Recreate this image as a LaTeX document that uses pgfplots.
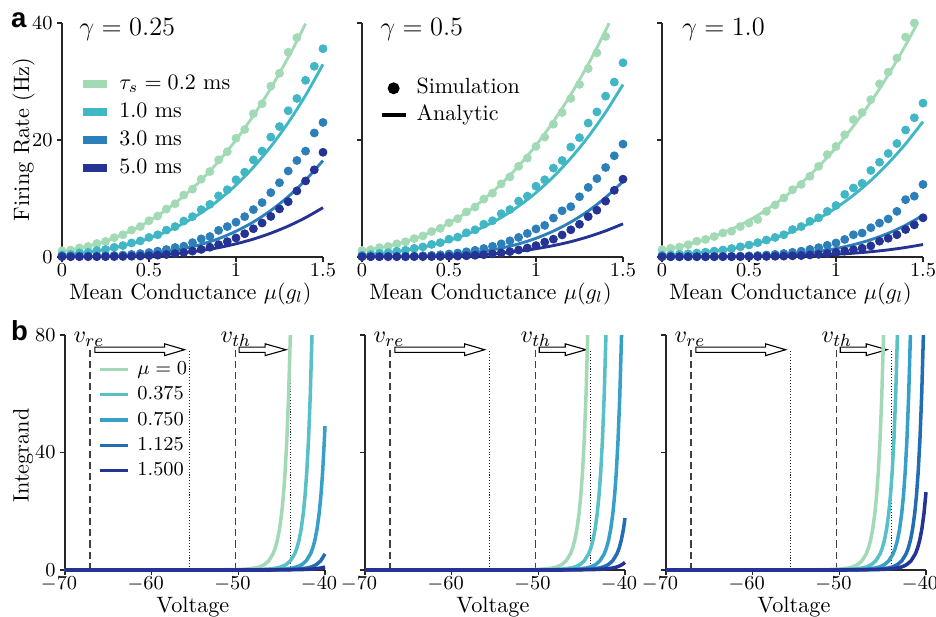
\documentclass[border=0pt]{standalone}
\usepackage{pgfplots}
\pgfplotsset{compat=1.18}
\usepackage{pgfplotstable}
\usepackage{fontspec}
\newfontfamily\helv{Liberation Sans}

\definecolor{cA}{HTML}{A1DAB4}
\definecolor{cB}{HTML}{41B6C4}
\definecolor{cC}{HTML}{2C7FB8}
\definecolor{cD}{HTML}{253494}
\definecolor{vA}{HTML}{A3D9B6}
\definecolor{vB}{HTML}{58C0C6}
\definecolor{vC}{HTML}{37A0C8}
\definecolor{vD}{HTML}{236EB2}
\definecolor{vE}{HTML}{253494}

\pgfplotstableread{
x G T B D
0.00 1.05 0.35 0.15 0.05
0.05 1.18 0.42 0.15 0.05
0.10 1.55 0.68 0.15 0.05
0.15 1.80 0.80 0.16 0.05
0.20 2.30 1.10 0.18 0.05
0.25 2.65 1.28 0.21 0.06
0.30 3.30 1.65 0.26 0.07
0.35 3.80 1.95 0.34 0.09
0.40 4.60 2.40 0.45 0.12
0.45 5.20 2.75 0.59 0.16
0.50 6.20 3.35 0.77 0.22
0.55 7.00 3.80 1.00 0.31
0.60 8.20 4.60 1.28 0.42
0.65 9.10 5.20 1.62 0.57
0.70 10.6 6.15 1.85 0.77
0.75 11.6 6.90 2.45 1.01
0.80 13.3 8.10 3.10 1.30
0.85 14.6 9.00 3.50 1.67
0.90 16.6 10.45 4.55 2.11
0.95 18.0 11.50 5.20 2.63
1.00 20.3 13.20 5.95 3.25
1.05 21.8 14.50 6.90 3.98
1.10 24.5 16.60 8.10 4.83
1.15 26.2 18.10 9.30 5.81
1.20 29.2 20.50 11.0 6.93
1.25 31.4 22.30 12.7 8.22
1.30 35.0 25.00 14.7 9.45
1.35 37.5 27.10 16.5 11.3
1.40 nan 30.20 18.1 13.0
1.45 nan 32.60 21.2 14.9
1.50 nan 35.60 23.0 17.9
}\simA

\pgfplotstableread{
x G T B D
0.00 1.10 0.32 0.10 0.05
0.05 1.25 0.42 0.10 0.05
0.10 1.60 0.62 0.10 0.05
0.15 1.80 0.74 0.11 0.05
0.20 2.25 0.98 0.12 0.05
0.25 2.60 1.15 0.14 0.05
0.30 3.15 1.48 0.17 0.06
0.35 3.60 1.72 0.22 0.06
0.40 4.35 2.15 0.29 0.07
0.45 4.90 2.45 0.39 0.09
0.50 5.85 3.05 0.52 0.12
0.55 6.55 3.40 0.68 0.16
0.60 7.70 4.15 0.89 0.21
0.65 8.55 4.65 1.14 0.29
0.70 9.90 5.60 1.45 0.39
0.75 10.9 6.20 1.82 0.53
0.80 12.5 7.40 2.25 0.70
0.85 13.7 8.10 2.76 0.92
0.90 15.5 9.55 3.35 1.20
0.95 16.9 10.4 4.03 1.54
1.00 18.9 12.1 4.80 1.95
1.05 20.5 13.2 5.40 2.55
1.10 22.7 15.2 6.66 3.05
1.15 24.7 16.5 7.90 3.77
1.20 27.1 18.8 8.60 4.65
1.25 29.5 20.4 10.3 5.60
1.30 32.2 22.9 11.9 6.90
1.35 34.9 24.8 13.4 8.00
1.40 37.7 27.5 15.3 9.55
1.45 nan 29.9 17.3 11.4
1.50 nan 33.2 19.3 13.3
}\simB

\pgfplotstableread{
x G T B D
0.00 1.25 0.32 0.05 0.05
0.05 1.50 0.38 0.05 0.05
0.10 1.70 0.45 0.05 0.05
0.15 2.10 0.55 0.05 0.05
0.20 2.70 0.68 0.06 0.05
0.25 3.00 0.82 0.06 0.05
0.30 3.50 1.00 0.08 0.05
0.35 4.10 1.20 0.10 0.05
0.40 4.40 1.45 0.12 0.05
0.45 5.20 1.75 0.15 0.06
0.50 5.80 2.05 0.20 0.07
0.55 6.40 2.45 0.25 0.08
0.60 7.80 2.90 0.35 0.10
0.65 8.90 3.35 0.45 0.12
0.70 10.1 3.80 0.60 0.15
0.75 11.5 4.70 0.80 0.20
0.80 12.4 5.20 1.00 0.25
0.85 13.8 6.10 1.30 0.35
0.90 15.5 6.70 1.60 0.45
0.95 17.5 7.80 2.00 0.60
1.00 18.9 8.80 2.40 0.80
1.05 20.9 10.7 3.00 1.00
1.10 23.5 11.8 3.80 1.25
1.15 24.7 12.6 4.10 1.50
1.20 26.9 14.8 5.00 1.90
1.25 29.6 16.2 5.80 2.70
1.30 31.6 17.7 6.50 3.20
1.35 34.0 19.4 7.80 3.80
1.40 37.6 21.7 9.80 4.70
1.45 40.0 23.8 10.4 5.50
1.50 nan 26.3 12.4 6.70
}\simC

\pgfplotsset{
  base/.style={scale only axis, axis lines=left,
    axis line style={-, black!85, line width=0.6pt},
    every tick/.style={black!85, line width=0.6pt},
    tick align=outside, major tick length=2.2pt, clip=false,
    tick label style={font=\fontsize{8.6}{10}\selectfont},
    xticklabel style={inner sep=0.7pt},
    yticklabel style={inner xsep=1.9pt, inner ysep=0pt},
    label style={font=\fontsize{10.1}{12}\selectfont},
    anchor=south west},
  toprow/.style={base, width=118.51pt, height=106.25pt,
    xmin=0, xmax=1.5, ymin=0, ymax=40,
    xtick={0,0.5,1,1.5}, ytick={0,20,40},
    xlabel={Mean Conductance $\mu(g_l)$},
    xlabel style={at={(axis description cs:0.492,-0.18)}, anchor=base}},
  botrow/.style={base, width=118.06pt, height=106.70pt,
    xmin=-70, xmax=-40, ymin=0, ymax=80,
    xtick={-70,-60,-50,-40}, ytick={0,40,80},
    xticklabel style={xshift=-2.7pt},
    xlabel={Voltage},
    xlabel style={at={(axis description cs:0.492,-0.182)}, anchor=base}},
  sim/.style={only marks, mark=*, mark size=1.8pt, mark options={draw=none}},
  ana/.style={line width=1.3pt, smooth},
  bl/.style={line width=1.6pt, line join=round},
  vline/.style={black!75, line width=0.6pt, dash pattern=on 3.2pt off 1.9pt},
  dline/.style={black!85, line width=0.6pt, dash pattern=on 0.5pt off 0.8pt},
  thickleg/.style={legend image code/.code={\draw[##1, line width=3.3pt] (0pt,0pt) -- (10.9pt,0pt);}},
  botleg/.style={legend image code/.code={\draw[##1, line width=1.6pt] (0pt,0pt) -- (12.7pt,0pt);}},
  markleg/.style={legend image code/.code={\draw[##1] plot coordinates {(5.45pt,0pt)};}},
  lineleg/.style={legend image code/.code={\draw[##1] (0pt,0pt) -- (10.9pt,0pt);}},
}

\newcommand{\decor}{%
  \addplot[vline, forget plot] coordinates {(-67.1,0)(-67.1,75)};
  \addplot[vline, forget plot] coordinates {(-50.35,0)(-50.35,75)};
  \addplot[dline, forget plot] coordinates {(-55.6,0)(-55.6,75)};
  \addplot[dline, forget plot] coordinates {(-44.0,0)(-44.0,75)};
  \draw[draw=black, fill=white, line width=0.5pt] (axis cs:-66.55,74.1) -- (axis cs:-58.5,74.1) -- (axis cs:-58.5,73.0) -- (axis cs:-56.2,75) -- (axis cs:-58.5,77.0) -- (axis cs:-58.5,75.9) -- (axis cs:-66.55,75.9) -- cycle;
  \draw[draw=black, fill=white, line width=0.5pt] (axis cs:-49.9,74.1) -- (axis cs:-46.9,74.1) -- (axis cs:-46.9,73.0) -- (axis cs:-44.5,75) -- (axis cs:-46.9,77.0) -- (axis cs:-46.9,75.9) -- (axis cs:-49.9,75.9) -- cycle;
  \node[anchor=base west, inner sep=0pt, font=\fontsize{11}{13}\selectfont] at (axis cs:-69.05,77.4) {$v_{re}$};
  \node[anchor=base west, inner sep=0pt, font=\fontsize{11}{13}\selectfont] at (axis cs:-52.1,77.4) {$v_{th}$};
}

\begin{document}
\begin{tikzpicture}
\path[use as bounding box] (0pt,0pt) rectangle (425pt,279.70pt);

\node[anchor=base west, inner sep=0pt, font=\helv\bfseries\fontsize{12.5}{14}\selectfont] at (4.9pt,267.4pt) {a};
\node[anchor=base west, inner sep=0pt, font=\helv\bfseries\fontsize{12.5}{14}\selectfont] at (4.9pt,125.3pt) {b};

% ---------------- top panel 1
\begin{axis}[toprow, at={(28.15pt,163.01pt)},
  ylabel={Firing Rate (Hz)},
  ylabel style={at={(axis description cs:-0.126,0.502)}, anchor=base},
  thickleg,
  legend cell align=left,
  legend style={draw=none, fill=none, inner sep=0pt, outer sep=0pt,
    at={(axis cs:0.098,31.34)}, anchor=north west,
    row sep=3.3pt, column sep=4.1pt, font=\fontsize{10}{12}\selectfont,
    nodes={inner sep=0pt, text height=7.2pt, text depth=2.2pt}}]
\addplot[sim, cA, forget plot] table[x=x, y=G] {\simA};
\addplot[ana, cA, forget plot] coordinates {(0,1.00)(0.1,1.51)(0.2,2.24)(0.3,3.24)(0.4,4.52)(0.5,6.13)(0.6,8.08)(0.7,10.42)(0.8,13.16)(0.9,16.35)(1.0,20.00)(1.1,24.16)(1.2,28.84)(1.3,34.10)(1.35,36.93)(1.4,39.90)};
\addplot[sim, cB, forget plot] table[x=x, y=T] {\simA};
\addplot[ana, cB, forget plot] coordinates {(0,0.30)(0.1,0.63)(0.2,1.04)(0.3,1.57)(0.4,2.27)(0.5,3.18)(0.6,4.33)(0.7,5.78)(0.8,7.56)(0.9,9.72)(1.0,12.30)(1.1,15.34)(1.2,18.88)(1.3,22.96)(1.4,27.63)(1.5,32.93)};
\addplot[sim, cC, forget plot] table[x=x, y=B] {\simA};
\addplot[ana, cC, forget plot] coordinates {(0,0.10)(0.1,0.10)(0.2,0.12)(0.3,0.18)(0.4,0.31)(0.5,0.54)(0.6,0.90)(0.7,1.43)(0.8,2.16)(0.9,3.14)(1.0,4.40)(1.1,5.99)(1.2,7.95)(1.3,10.32)(1.4,13.15)(1.5,16.49)};
\addplot[sim, cD, forget plot] table[x=x, y=D] {\simA};
\addplot[ana, cD, forget plot] coordinates {(0,0.05)(0.1,0.05)(0.2,0.06)(0.3,0.09)(0.4,0.16)(0.5,0.27)(0.6,0.46)(0.7,0.73)(0.8,1.10)(0.9,1.60)(1.0,2.25)(1.1,3.06)(1.2,4.07)(1.3,5.28)(1.4,6.73)(1.5,8.44)};
\addlegendimage{cA}\addlegendentry{$\tau_s = 0.2$ ms}
\addlegendimage{cB}\addlegendentry{1.0 ms}
\addlegendimage{cC}\addlegendentry{3.0 ms}
\addlegendimage{cD}\addlegendentry{5.0 ms}
\node[anchor=base west, inner sep=0pt, font=\fontsize{12.5}{15}\selectfont] at (axis cs:0.098,37.9) {$\gamma = 0.25$};
\end{axis}

% ---------------- top panel 2
\begin{axis}[toprow, at={(164.37pt,163.01pt)}, yticklabels={,,},
  legend cell align=left,
  legend style={draw=none, fill=none, inner sep=0pt, outer sep=0pt,
    at={(axis cs:0.1034,30.61)}, anchor=north west,
    row sep=2.7pt, column sep=4.2pt, font=\fontsize{10}{12}\selectfont,
    nodes={inner sep=0pt, text height=7.2pt, text depth=2.2pt}}]
\addplot[sim, cA, forget plot] table[x=x, y=G] {\simB};
\addplot[ana, cA, forget plot] coordinates {(0,1.10)(0.1,1.55)(0.2,2.20)(0.3,3.11)(0.4,4.29)(0.5,5.79)(0.6,7.63)(0.7,9.85)(0.8,12.48)(0.9,15.55)(1.0,19.10)(1.1,23.16)(1.2,27.76)(1.3,32.94)(1.35,35.76)(1.4,38.73)(1.42,39.97)};
\addplot[sim, cB, forget plot] table[x=x, y=T] {\simB};
\addplot[ana, cB, forget plot] coordinates {(0,0.30)(0.1,0.58)(0.2,0.93)(0.3,1.40)(0.4,2.02)(0.5,2.83)(0.6,3.86)(0.7,5.16)(0.8,6.75)(0.9,8.69)(1.0,11.00)(1.1,13.72)(1.2,16.89)(1.3,20.55)(1.4,24.73)(1.5,29.48)};
\addplot[sim, cC, forget plot] table[x=x, y=B] {\simB};
\addplot[ana, cC, forget plot] coordinates {(0,0.10)(0.1,0.10)(0.2,0.11)(0.3,0.15)(0.4,0.23)(0.5,0.37)(0.6,0.62)(0.7,0.99)(0.8,1.52)(0.9,2.24)(1.0,3.20)(1.1,4.43)(1.2,5.97)(1.3,7.87)(1.4,10.17)(1.5,12.92)};
\addplot[sim, cD, forget plot] table[x=x, y=D] {\simB};
\addplot[ana, cD, forget plot] coordinates {(0,0.05)(0.1,0.05)(0.2,0.05)(0.3,0.07)(0.4,0.11)(0.5,0.17)(0.6,0.28)(0.7,0.44)(0.8,0.67)(0.9,0.99)(1.0,1.41)(1.1,1.95)(1.2,2.62)(1.3,3.46)(1.4,4.47)(1.5,5.67)};
\addlegendimage{only marks, mark=*, mark size=2.5pt, black, markleg}
\addlegendentry{Simulation}
\addlegendimage{black, line width=1.5pt, lineleg}
\addlegendentry{Analytic}
\node[anchor=base west, inner sep=0pt, font=\fontsize{12.5}{15}\selectfont] at (axis cs:0.1034,37.9) {$\gamma = 0.5$};
\end{axis}

% ---------------- top panel 3
\begin{axis}[toprow, at={(300.59pt,163.01pt)}, yticklabels={,,}]
\addplot[sim, cA, forget plot] table[x=x, y=G] {\simC};
\addplot[ana, cA, forget plot] coordinates {(0,1.20)(0.1,1.78)(0.2,2.56)(0.3,3.54)(0.4,4.77)(0.5,6.26)(0.6,8.05)(0.7,10.16)(0.8,12.62)(0.9,15.46)(1.0,18.70)(1.1,22.37)(1.2,26.50)(1.3,31.11)(1.4,36.23)(1.468,40.00)};
\addplot[sim, cB, forget plot] table[x=x, y=T] {\simC};
\addplot[ana, cB, forget plot] coordinates {(0,0.30)(0.1,0.44)(0.2,0.66)(0.3,0.97)(0.4,1.41)(0.5,2.01)(0.6,2.80)(0.7,3.80)(0.8,5.05)(0.9,6.57)(1.0,8.40)(1.1,10.56)(1.2,13.09)(1.3,16.01)(1.4,19.35)(1.5,23.14)};
\addplot[sim, cC, forget plot] table[x=x, y=B] {\simC};
\addplot[ana, cC, forget plot] coordinates {(0,0.05)(0.1,0.05)(0.2,0.05)(0.3,0.06)(0.4,0.09)(0.5,0.14)(0.6,0.23)(0.7,0.39)(0.8,0.62)(0.9,0.97)(1.0,1.45)(1.1,2.10)(1.2,2.95)(1.3,4.05)(1.4,5.43)(1.5,7.14)};
\addplot[sim, cD, forget plot] table[x=x, y=D] {\simC};
\addplot[ana, cD, forget plot] coordinates {(0,0.05)(0.1,0.05)(0.2,0.05)(0.3,0.05)(0.4,0.06)(0.5,0.08)(0.6,0.10)(0.7,0.15)(0.8,0.22)(0.9,0.32)(1.0,0.46)(1.1,0.65)(1.2,0.90)(1.3,1.22)(1.4,1.63)(1.5,2.13)};
\node[anchor=base west, inner sep=0pt, font=\fontsize{12.5}{15}\selectfont] at (axis cs:0.113,37.9) {$\gamma = 1.0$};
\end{axis}

% ---------------- bottom panel 1
\begin{axis}[botrow, at={(29.51pt,20.89pt)},
  ylabel={Integrand},
  ylabel style={at={(axis description cs:-0.140,0.487)}, anchor=base},
  botleg,
  legend cell align=left,
  legend style={draw=none, fill=none, inner sep=0pt, outer sep=0pt,
    at={(axis cs:-66.19,71.49)}, anchor=north west,
    row sep=3.0pt, column sep=3.6pt, font=\fontsize{8.8}{10.5}\selectfont,
    nodes={inner sep=0pt, text height=6.5pt, text depth=2.0pt}}]
\decor
\addplot[bl, vA, forget plot] coordinates {(-70,0)(-54,0)(-52,0.06)(-50,0.18)(-49,0.33)(-48,0.71)(-47.5,1.12)(-47,1.83)(-46.5,3.10)(-46,5.49)(-45.75,7.41)(-45.5,10.10)(-45.25,13.90)(-45,19.34)(-44.8,25.36)(-44.6,33.48)(-44.4,44.47)(-44.2,59.46)(-44,80)};
\addplot[bl, vB, forget plot] coordinates {(-70,0)(-51.5,0)(-49.5,0.06)(-47.5,0.18)(-46.5,0.33)(-45.5,0.71)(-45,1.12)(-44.5,1.83)(-44,3.10)(-43.5,5.49)(-43.25,7.41)(-43,10.10)(-42.75,13.90)(-42.5,19.34)(-42.3,25.36)(-42.1,33.48)(-41.9,44.47)(-41.7,59.46)(-41.5,80)};
\addplot[bl, vC, forget plot] coordinates {(-70,0)(-49.67,0)(-47.67,0.06)(-45.67,0.18)(-44.67,0.33)(-43.67,0.71)(-43.17,1.12)(-42.67,1.83)(-42.17,3.10)(-41.67,5.49)(-41.42,7.41)(-41.17,10.10)(-40.92,13.90)(-40.67,19.34)(-40.47,25.36)(-40.27,33.48)(-40.07,44.47)(-40,49.0)};
\addplot[bl, vD, forget plot] coordinates {(-70,0)(-48,0)(-46,0.06)(-44,0.18)(-43,0.33)(-42,0.71)(-41.5,1.12)(-41,1.83)(-40.5,3.10)(-40,5.49)};
\addplot[bl, vE, forget plot] coordinates {(-70,0)(-46.4,0)(-44.4,0.06)(-42.4,0.18)(-41.4,0.33)(-40.4,0.71)(-40,1.0)};
\addlegendimage{vA}\addlegendentry{$\mu = 0$}
\addlegendimage{vB}\addlegendentry{$0.375$}
\addlegendimage{vC}\addlegendentry{$0.750$}
\addlegendimage{vD}\addlegendentry{$1.125$}
\addlegendimage{vE}\addlegendentry{$1.500$}
\end{axis}

% ---------------- bottom panel 2
\begin{axis}[botrow, at={(165.73pt,20.89pt)}, yticklabels={,,}]
\decor
\addplot[bl, vA, forget plot] coordinates {(-70,0)(-54.3,0)(-52.3,0.06)(-50.3,0.18)(-49.3,0.33)(-48.3,0.71)(-47.8,1.12)(-47.3,1.83)(-46.8,3.10)(-46.3,5.49)(-46.05,7.41)(-45.8,10.10)(-45.55,13.90)(-45.3,19.34)(-45.1,25.36)(-44.9,33.48)(-44.7,44.47)(-44.5,59.46)(-44.3,80)};
\addplot[bl, vB, forget plot] coordinates {(-70,0)(-52.2,0)(-50.2,0.06)(-48.2,0.18)(-47.2,0.33)(-46.2,0.71)(-45.7,1.12)(-45.2,1.83)(-44.7,3.10)(-44.2,5.49)(-43.95,7.41)(-43.7,10.10)(-43.45,13.90)(-43.2,19.34)(-43.0,25.36)(-42.8,33.48)(-42.6,44.47)(-42.4,59.46)(-42.2,80)};
\addplot[bl, vC, forget plot] coordinates {(-70,0)(-50.4,0)(-48.4,0.06)(-46.4,0.18)(-45.4,0.33)(-44.4,0.71)(-43.9,1.12)(-43.4,1.83)(-42.9,3.10)(-42.4,5.49)(-42.15,7.41)(-41.9,10.10)(-41.65,13.90)(-41.4,19.34)(-41.2,25.36)(-41.0,33.48)(-40.8,44.47)(-40.6,59.46)(-40.4,80)};
\addplot[bl, vD, forget plot] coordinates {(-70,0)(-48.93,0)(-46.93,0.06)(-44.93,0.18)(-43.93,0.33)(-42.93,0.71)(-42.43,1.12)(-41.93,1.83)(-41.43,3.10)(-40.93,5.49)(-40.68,7.41)(-40.43,10.10)(-40.18,13.90)(-40,17.7)};
\addplot[bl, vE, forget plot] coordinates {(-70,0)(-47.34,0)(-45.34,0.06)(-43.34,0.18)(-42.34,0.33)(-41.34,0.71)(-40.84,1.12)(-40.34,1.83)(-40,2.6)};
\end{axis}

% ---------------- bottom panel 3
\begin{axis}[botrow, at={(302.40pt,20.89pt)}, yticklabels={,,}]
\decor
\addplot[bl, vA, forget plot] coordinates {(-70,0)(-54.9,0)(-52.9,0.06)(-50.9,0.18)(-49.9,0.33)(-48.9,0.71)(-48.4,1.12)(-47.9,1.83)(-47.4,3.10)(-46.9,5.49)(-46.65,7.41)(-46.4,10.10)(-46.15,13.90)(-45.9,19.34)(-45.7,25.36)(-45.5,33.48)(-45.3,44.47)(-45.1,59.46)(-44.9,80)};
\addplot[bl, vB, forget plot] coordinates {(-70,0)(-53.3,0)(-51.3,0.06)(-49.3,0.18)(-48.3,0.33)(-47.3,0.71)(-46.8,1.12)(-46.3,1.83)(-45.8,3.10)(-45.3,5.49)(-45.05,7.41)(-44.8,10.10)(-44.55,13.90)(-44.3,19.34)(-44.1,25.36)(-43.9,33.48)(-43.7,44.47)(-43.5,59.46)(-43.3,80)};
\addplot[bl, vC, forget plot] coordinates {(-70,0)(-51.8,0)(-49.8,0.06)(-47.8,0.18)(-46.8,0.33)(-45.8,0.71)(-45.3,1.12)(-44.8,1.83)(-44.3,3.10)(-43.8,5.49)(-43.55,7.41)(-43.3,10.10)(-43.05,13.90)(-42.8,19.34)(-42.6,25.36)(-42.4,33.48)(-42.2,44.47)(-42.0,59.46)(-41.8,80)};
\addplot[bl, vD, forget plot] coordinates {(-70,0)(-50.3,0)(-48.3,0.06)(-46.3,0.18)(-45.3,0.33)(-44.3,0.71)(-43.8,1.12)(-43.3,1.83)(-42.8,3.10)(-42.3,5.49)(-42.05,7.41)(-41.8,10.10)(-41.55,13.90)(-41.3,19.34)(-41.1,25.36)(-40.9,33.48)(-40.7,44.47)(-40.5,59.46)(-40.3,80)};
\addplot[bl, vE, forget plot] coordinates {(-70,0)(-49.23,0)(-47.23,0.06)(-45.23,0.18)(-44.23,0.33)(-43.23,0.71)(-42.73,1.12)(-42.23,1.83)(-41.73,3.10)(-41.23,5.49)(-40.98,7.41)(-40.73,10.10)(-40.48,13.90)(-40.23,19.34)(-40,26.5)};
\end{axis}
\end{tikzpicture}
\end{document}
